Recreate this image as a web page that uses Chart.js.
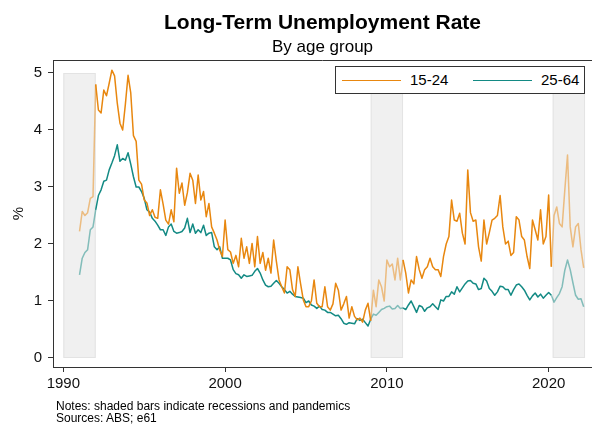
<!DOCTYPE html>
<html>
<head>
<meta charset="utf-8">
<script src="https://cdn.jsdelivr.net/npm/chart.js@4"></script>
<style>
  body { margin: 0; background: #fff; font-family: "Liberation Sans", Arial, sans-serif; }
  #wrap { position: relative; width: 592px; height: 424px; }
  canvas { position: absolute; left: 0; top: 0; }
  .title { position: absolute; left: 53px; width: 539px; text-align: center; color: #000; }
  #legend { position: absolute; left: 335px; top: 66px; width: 250px; height: 28px; border: 1px solid #333; box-sizing: border-box; background: #fff; }
  #legend .sw { position: absolute; top: 13px; width: 59px; height: 0; border-top: 1.5px solid; }
  #legend .lb { position: absolute; top: 4px; font-size: 15px; line-height: 18px; color: #000; }
  .note { position: absolute; left: 56px; font-size: 12px; line-height: 12px; color: #000; }
</style>
</head>
<body>
<div id="wrap">
  <canvas id="chart" width="592" height="424"></canvas>
  <div class="title" style="top:10px;font-size:21px;font-weight:bold;line-height:24px">Long-Term Unemployment Rate</div>
  <div class="title" style="top:37px;font-size:17px;line-height:20px">By age group</div>
  <div id="legend">
    <div class="sw" style="left:6px;border-color:#e8870f"></div>
    <div class="lb" style="left:74px">15-24</div>
    <div class="sw" style="left:137px;border-color:#138a84"></div>
    <div class="lb" style="left:205px">25-64</div>
  </div>
  <div class="note" style="top:400px">Notes: shaded bars indicate recessions and pandemics</div>
  <div class="note" style="top:412px">Sources: ABS; e61</div>
</div>
<script>
// bi-monthly observations starting Jan 1991
const startYear = 1991;
const perYear = 6;

const youth = [
  2.22, 2.57, 2.50, 2.55, 2.80, 2.83,
  4.80, 4.35, 4.30, 4.70, 4.60, 4.82,
  5.05, 4.95, 4.47, 4.12, 4.00, 4.45,
  4.96, 4.65, 3.90, 3.80, 3.12, 3.05,
  2.77, 2.72, 2.50, 2.60, 2.47, 2.45,
  2.95, 2.70, 2.42, 2.35, 2.60, 2.39,
  3.33, 2.89, 3.07, 2.68, 2.90, 3.24,
  3.12, 2.71, 3.21, 2.77, 2.92, 2.48,
  2.71, 2.30, 2.19, 2.07, 1.89, 1.78,
  2.42, 1.90, 1.86, 1.66, 1.80, 1.60,
  2.10, 1.75, 1.95, 1.66, 2.01, 1.60,
  2.13, 1.66, 1.85, 1.54, 1.75, 1.49,
  2.07, 1.70, 1.37, 1.25, 1.14, 1.60,
  1.55, 1.20, 1.08, 1.60, 1.30, 1.02,
  0.90, 0.90, 1.00, 1.37, 0.96, 0.90,
  0.90, 1.25, 0.90, 0.84, 0.95, 1.31,
  1.19, 0.84, 0.95, 1.08, 0.70, 0.90,
  0.73, 0.67, 0.70, 0.63, 0.84, 0.96,
  0.65, 1.19, 0.90, 1.37, 1.25, 1.00,
  1.72, 1.60, 1.65, 1.37, 1.75, 1.37,
  1.72, 1.49, 1.14, 1.37, 1.30, 1.78,
  1.55, 1.40, 1.55, 1.60, 1.75, 1.60,
  1.55, 1.55, 1.43, 1.78, 2.00, 2.13,
  2.77, 2.42, 2.40, 2.54, 2.19, 2.00,
  3.30, 2.55, 2.40, 2.42, 1.95, 1.70,
  2.42, 2.00, 2.20, 2.42, 2.45, 2.50,
  2.85, 2.30, 2.00, 2.05, 1.80, 1.85,
  2.48, 2.42, 2.13, 2.07, 1.78, 1.57,
  2.42, 2.25, 2.07, 2.60, 2.00, 2.13,
  2.86, 1.60, 2.50, 2.65, 2.36, 2.30,
  2.95, 3.56, 2.30, 1.95, 2.30, 2.36,
  1.90, 1.58
];

const prime = [
  1.46, 1.75, 1.85, 1.90, 2.25, 2.30,
  2.60, 2.85, 2.95, 3.10, 3.12, 3.30,
  3.42, 3.55, 3.74, 3.45, 3.50, 3.47,
  3.60, 3.40, 3.18, 3.00, 3.00, 2.92,
  2.80, 2.60, 2.56, 2.45, 2.40, 2.33,
  2.25, 2.25, 2.15, 2.30, 2.35, 2.22,
  2.19, 2.20, 2.22, 2.28, 2.45, 2.20,
  2.35, 2.19, 2.25, 2.20, 2.33, 2.15,
  2.19, 2.20, 1.95, 1.90, 1.95, 1.75,
  1.75, 1.75, 1.72, 1.55, 1.48, 1.46,
  1.40, 1.46, 1.43, 1.44, 1.45, 1.52,
  1.57, 1.49, 1.37, 1.28, 1.25, 1.26,
  1.31, 1.36, 1.31, 1.25, 1.20, 1.14,
  1.17, 1.12, 1.08, 1.07, 1.06, 1.05,
  0.97, 1.00, 0.93, 0.91, 0.87, 0.91,
  0.85, 0.84, 0.80, 0.80, 0.77, 0.74,
  0.75, 0.69, 0.61, 0.59, 0.62, 0.61,
  0.60, 0.69, 0.66, 0.68, 0.62, 0.56,
  0.68, 0.77, 0.75, 0.80, 0.85, 0.87,
  0.90, 0.91, 0.86, 0.87, 0.92, 0.87,
  0.88, 0.85, 0.93, 1.00, 0.90, 0.80,
  0.92, 0.90, 0.82, 0.88, 0.90, 0.95,
  0.90, 0.85, 1.02, 1.00, 1.08, 1.08,
  1.16, 1.12, 1.25, 1.16, 1.23, 1.30,
  1.35, 1.36, 1.31, 1.30, 1.20, 1.22,
  1.40, 1.35, 1.22, 1.17, 1.10, 1.16,
  1.26, 1.25, 1.20, 1.20, 1.10, 1.20,
  1.28, 1.30, 1.25, 1.19, 1.10, 1.02,
  1.09, 1.14, 1.07, 1.12, 1.05, 1.10,
  1.15, 1.10, 0.98, 1.06, 1.13, 1.25,
  1.54, 1.72, 1.55, 1.32, 1.10, 1.03,
  1.04, 0.90
];

const dates = youth.map((_, i) => startYear + i / perYear);

// recessions / pandemic periods
const recStart = [1990, 2009, 2020.25];
const recEnd = [1992, 2011, 2022.25];

const yTicks = [0, 1, 2, 3, 4, 5];
const xTicks = [1990, 2000, 2010, 2020];

const orange = "#e8870f", orangeLight = "rgba(232,135,15,0.5)";
const teal = "#138a84", tealLight = "rgba(19,138,132,0.5)";
const font = "'Liberation Sans', Arial, sans-serif";

const inRec = x => recStart.some((s, i) => x >= s && x <= recEnd[i]);
const segColor = (solid, light) => c =>
  inRec((c.p0.parsed.x + c.p1.parsed.x) / 2) ? light : solid;

const shade = {
  id: "shade",
  beforeDatasetsDraw(chart) {
    const {ctx, scales: {x, y}} = chart;
    ctx.save();
    recStart.forEach((s, i) => {
      const x0 = x.getPixelForValue(s), x1 = x.getPixelForValue(recEnd[i]);
      const y0 = y.getPixelForValue(5), y1 = y.getPixelForValue(0);
      ctx.fillStyle = "#f0f0f0";
      ctx.fillRect(x0, y0, x1 - x0, y1 - y0);
      ctx.strokeStyle = "#e3e3e3";
      ctx.lineWidth = 1;
      ctx.strokeRect(x0 + 0.5, y0 + 0.5, x1 - x0 - 1, y1 - y0 - 1);
    });
    ctx.restore();
  },
  afterDraw(chart) {
    const {ctx, chartArea: a} = chart;
    ctx.save();
    ctx.strokeStyle = "#333";
    ctx.lineWidth = 1;
    ctx.beginPath();
    ctx.moveTo(a.left, a.top + 0.5);
    ctx.lineTo(a.right, a.top + 0.5);
    ctx.stroke();
    ctx.restore();
  }
};

const line = (label, vals, solid, light) => ({
  label,
  data: vals.map((v, i) => ({x: dates[i], y: v})),
  borderColor: solid,
  borderWidth: 1.5,
  borderJoinStyle: "round",
  pointRadius: 0,
  tension: 0,
  segment: {borderColor: segColor(solid, light)}
});

new Chart(document.getElementById("chart"), {
  type: "line",
  data: {
    datasets: [
      line("15-24", youth, orange, orangeLight),
      line("25-64", prime, teal, tealLight)
    ]
  },
  options: {
    responsive: false,
    animation: false,
    layout: {padding: {top: 60, right: 0, left: 0, bottom: 0}},
    plugins: {legend: {display: false}, tooltip: {enabled: false}},
    scales: {
      x: {
        type: "linear",
        min: 1989.36,
        max: 2022.68,
        afterFit: s => { s.height = 57; },
        afterBuildTicks: s => { s.ticks = xTicks.map(v => ({value: v})); },
        ticks: {font: {family: font, size: 15}, color: "#111", padding: 3, callback: v => String(v), maxRotation: 0},
        grid: {drawOnChartArea: false, tickLength: 5, color: "#333"},
        border: {color: "#333", width: 1}
      },
      y: {
        min: -0.158,
        max: 5.228,
        afterFit: s => { s.width = 53; },
        afterBuildTicks: s => { s.ticks = yTicks.map(v => ({value: v})); },
        ticks: {font: {family: font, size: 15}, color: "#111", padding: 6},
        grid: {drawOnChartArea: false, tickLength: 5, color: "#333"},
        border: {color: "#333", width: 1},
        title: {display: true, text: "%", font: {family: font, size: 15}, color: "#111", padding: {top: 10, bottom: 0}}
      }
    }
  },
  plugins: [shade]
});
</script>
</body>
</html>
